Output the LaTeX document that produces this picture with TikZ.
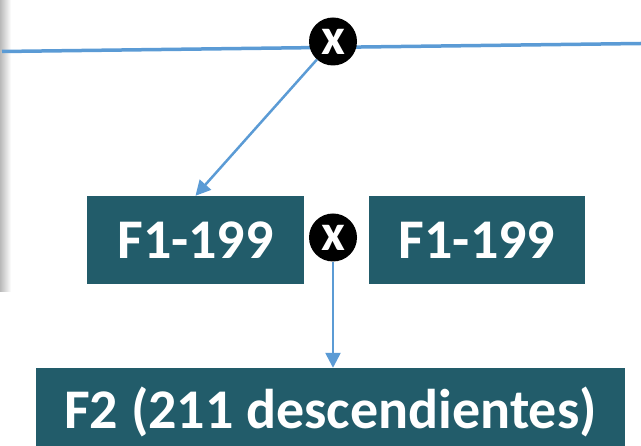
\documentclass[tikz,border=0pt]{standalone}
\usepackage{fontspec}
\setmainfont{Carlito}
\usepackage{xcolor}
\usepackage{tikz}
\usetikzlibrary{shapes,arrows.meta,calc}
\definecolor{boxTeal}{RGB}{34,92,106}
\definecolor{lineBlue}{RGB}{91,155,213}
\tikzstyle{tsBoxText} = [ 
    text=white, 
    font=\bfseries\fontsize{56}{60}\selectfont
]
\tikzstyle{tsBox} = [ 
    rectangle,
    tsBoxText,
    fill=boxTeal,
    minimum height=88pt,
    inner sep=0pt]
\tikzstyle{tsCross} = [ 
    circle,
    fill=black,
    minimum size=48pt,
    inner sep=0pt,
    text=white,
    font=\bfseries\fontsize{52}{52}\selectfont]
\tikzstyle{tsArrow} = [ 
    draw=lineBlue,
    line width=2.5pt,
    -{Triangle[length=15pt,width=15pt]}]

\begin{document}
\begin{tikzpicture}[x=1pt, y=-1pt]

        \useasboundingbox (0,0) rectangle (641,446);
        \clip (0,0) rectangle (641,446);

        % window shadow
        \shade[left color=gray!55, right color=white] (0,0) rectangle (11,292);

        % line
        \coordinate (lineL) at (2,51.5);
        \coordinate (lineR) at (641,43.5);
        \draw[lineBlue, line width=3.5pt] (lineL) -- (lineR);

        \node[tsCross] (xtop) at (333,41.5) {x};

        \node[tsBox, minimum width=217pt] (f1a) at (195.5,240) {F1-199};
        \node[tsBox, minimum width=216.5pt] (f1b) at (477,240) {F1-199};
        \node[tsCross] (xmid) at (333,237.5) {x};

        \node[tsBox, minimum width=589pt] (f2) at (330.5,412) {F2 (211 descendientes)};

        \draw[tsArrow] (xtop) -- (f1a.north);
        \draw[tsArrow] (xmid) -- (xmid |- f2.north);

\end{tikzpicture}
\end{document}
